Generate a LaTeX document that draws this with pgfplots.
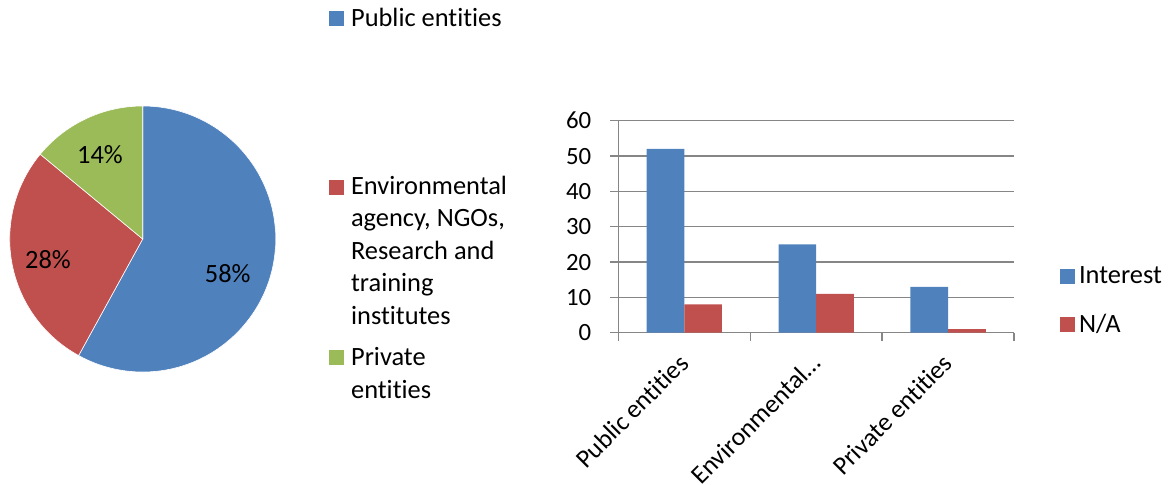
\documentclass[border=0pt]{standalone}
\usepackage{pgfplots}
\pgfplotsset{compat=1.18}
\usepackage{fontspec}
\setmainfont{Carlito}[Ligatures=NoCommon, RawFeature={-liga;-clig;-calt;-dlig}]

\definecolor{xblue}{HTML}{4F81BD}
\definecolor{xred}{HTML}{C0504D}
\definecolor{xgreen}{HTML}{9BBB59}
\definecolor{xgrid}{HTML}{868686}

\newcommand{\lbl}{\fontsize{13.2}{16.25}\selectfont}
\newcommand{\xlb}{\fontsize{12.9}{15}\selectfont}
\newcommand{\tck}{\fontsize{12.4}{15}\selectfont}

% pie shares (percent)
\pgfmathsetmacro{\pA}{58}
\pgfmathsetmacro{\pB}{28}
\pgfmathsetmacro{\pC}{14}
\pgfmathsetmacro{\aA}{90-3.6*\pA}
\pgfmathsetmacro{\aB}{\aA-3.6*\pB}
\pgfmathsetmacro{\aC}{\aB-3.6*\pC}

\begin{document}
\begin{tikzpicture}
\useasboundingbox (0,0) rectangle (586pt,242pt);

% ---- pie ----
\begin{axis}[
    hide axis, scale only axis,
    width=133pt, height=133pt,
    xmin=-1, xmax=1, ymin=-1, ymax=1,
    at={(4.85pt,56pt)}, anchor=south west,
]
  \fill[xblue, draw=white, line width=0.3pt] (axis cs:0,0) -- ++(90:66.5pt)
      arc[start angle=90, end angle=\aA, radius=66.5pt] -- cycle;
  \fill[xred, draw=white, line width=0.3pt] (axis cs:0,0) -- ++(\aA:66.5pt)
      arc[start angle=\aA, end angle=\aB, radius=66.5pt] -- cycle;
  \fill[xgreen, draw=white, line width=0.3pt] (axis cs:0,0) -- ++(\aB:66.5pt)
      arc[start angle=\aB, end angle=\aC, radius=66.5pt] -- cycle;
  \node[font=\lbl] at (axis cs:-0.321,0.632) {14\%};
  \node[font=\lbl] at (axis cs:-0.712,-0.158) {28\%};
  \node[font=\lbl] at (axis cs:0.639,-0.263) {58\%};
\end{axis}

% pie legend
\fill[xblue]  (164.5pt,229pt) rectangle ++(7.5pt,7.5pt);
\fill[xred]   (164.5pt,144.5pt) rectangle ++(7.5pt,7.5pt);
\fill[xgreen] (164.5pt,59.5pt) rectangle ++(7.5pt,7.5pt);
\node[anchor=base west, inner sep=0pt, font=\lbl] at (175.35pt,229pt) {Public entities};
\node[anchor=base west, inner sep=0pt, font=\lbl, align=left] at (175.35pt,80pt)
  {Environmental\\agency, NGOs,\\Research and\\training\\institutes};
\node[anchor=base west, inner sep=0pt, font=\lbl, align=left] at (175.35pt,43pt)
  {Private\\entities};

% ---- bars ----
\begin{axis}[
    at={(309.15pt,75.65pt)}, anchor=south west,
    scale only axis, width=197.9pt, height=106pt,
    ybar=0pt, bar width=18.85pt,
    xmin=-0.5, xmax=2.5, ymin=0, ymax=60, enlargelimits=false,
    ytick={0,10,...,60},
    yticklabel style={xshift=-6pt, font=\tck},
    xtick={-0.5,0.5,1.5,2.5}, xticklabels={},
    extra x ticks={0,1,2},
    extra x tick labels={Public entities,Environmental…,Private entities},
    extra x tick style={major tick length=0pt, grid=none,
        tick label style={rotate=45, anchor=east, font=\xlb,
            yshift=-9.2pt, xshift=-5.9pt}},
    axis x line*=bottom, axis y line*=left,
    axis line style={xgrid, line width=0.7pt},
    ymajorgrids, grid style={xgrid, line width=0.7pt},
    tick align=outside, major tick length=4pt,
    tick style={xgrid, line width=0.7pt},
    /pgf/number format/assume math mode=true,
    legend style={at={(1.115,0.150)}, anchor=west, draw=none, fill=none,
        font=\lbl, row sep=10pt, inner sep=0pt},
    legend cell align=left,
    legend image code/.code={\fill[#1] (-2.5pt,-3.75pt) rectangle (5pt,3.75pt);},
]
  \addplot[fill=xblue, draw=none] coordinates {(0,52) (1,25) (2,13)};
  \addplot[fill=xred, draw=none] coordinates {(0,8) (1,11) (2,1)};
  \legend{Interest,N/A}
\end{axis}
\end{tikzpicture}
\end{document}
